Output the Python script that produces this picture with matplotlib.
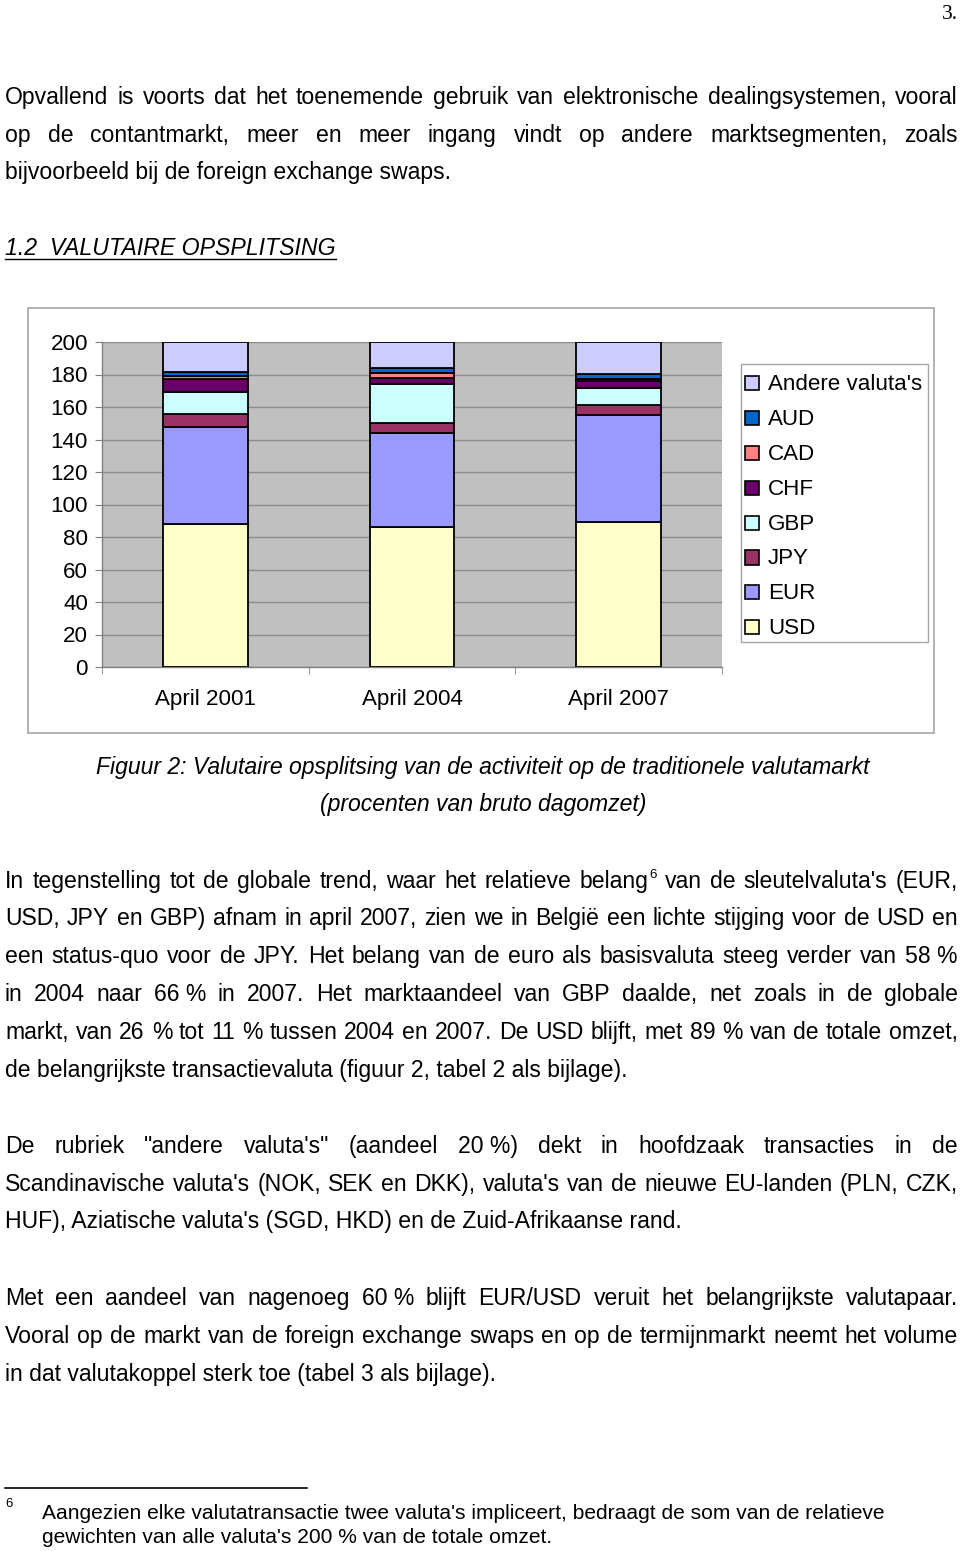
import numpy as np
import matplotlib
matplotlib.use('Agg')
import matplotlib.pyplot as plt
from matplotlib.patches import Rectangle
from matplotlib.lines import Line2D

# chart data (percent of gross daily turnover, sums to 200)
categories = ['April 2001', 'April 2004', 'April 2007']
usd = [88, 86, 89]
eur = [60, 58, 66]
jpy = [8, 6, 6]
gbp = [13.5, 24, 11]
chf = [8, 4, 4]
cad = [1.5, 3, 1.5]
aud = [2.5, 3, 3]
andere = [18.5, 16, 19.5]

series_names = ['USD', 'EUR', 'JPY', 'GBP', 'CHF', 'CAD', 'AUD', "Andere valuta's"]
series_vals = [usd, eur, jpy, gbp, chf, cad, aud, andere]
series_cols = ['#FFFFCC', '#9999FF', '#993366', '#CCFFFF', '#660066', '#FF8080', '#0066CC', '#CCCCFF']
y_ticks = [0, 20, 40, 60, 80, 100, 120, 140, 160, 180, 200]

W, H = 960, 1551
FONT = 'Liberation Sans'
BODY = 16.6
CHART = 16.1
plt.rcParams['font.family'] = [FONT, 'DejaVu Sans']

fig = plt.figure(figsize=(W / 100, H / 100), dpi=100)
fig.patch.set_facecolor('white')
rend = fig.canvas.get_renderer()


def px(x):
    return x / W


def py(y):
    return 1 - y / H


def text_width(t):
    return t.get_window_extent(rend).width


def put_line(txt, y, x0=5, x1=958, justify=False, size=BODY, style='normal'):
    # y is the baseline in page pixels
    if not justify:
        return fig.text(px(x0), py(y), txt, fontsize=size, style=style, va='baseline', ha='left')
    words = txt.split(' ')
    items = []
    total = 0
    for w in words:
        sup = None
        if '^' in w:
            w, sup = w.split('^')
        t = fig.text(0, py(y), w, fontsize=size, style=style, va='baseline', ha='left')
        wd = text_width(t)
        s = None
        if sup:
            s = fig.text(0, py(y - 10), sup, fontsize=size * 0.58, va='baseline', ha='left')
            wd += text_width(s) + 1
        items.append((t, s, wd))
        total += wd
    gap = (x1 - x0 - total) / (len(words) - 1)
    x = x0
    for t, s, wd in items:
        t.set_x(px(x))
        if s is not None:
            s.set_x(px(x + text_width(t) + 1))
        x += wd + gap


# page number
fig.text(px(958), py(19), '3.', fontsize=15.5, family='Liberation Serif', ha='right', va='baseline')

NB = '\u00a0'
body = [
    ("Opvallend is voorts dat het toenemende gebruik van elektronische dealingsystemen, vooral", 104, True),
    ("op de contantmarkt, meer en meer ingang vindt op andere marktsegmenten, zoals", 142, True),
    ("bijvoorbeeld bij de foreign exchange swaps.", 179, False),
    ("In tegenstelling tot de globale trend, waar het relatieve belang^6 van de sleutelvaluta's (EUR,", 888, True),
    ("USD, JPY en GBP) afnam in april 2007, zien we in België een lichte stijging voor de USD en", 925, True),
    ("een status-quo voor de JPY. Het belang van de euro als basisvaluta steeg verder van 58" + NB + "%", 963, True),
    ("in 2004 naar 66" + NB + "% in 2007. Het marktaandeel van GBP daalde, net zoals in de globale", 1001, True),
    ("markt, van 26 % tot 11 % tussen 2004 en 2007. De USD blijft, met 89 % van de totale omzet,", 1039, True),
    ("de belangrijkste transactievaluta (figuur 2, tabel 2 als bijlage).", 1077, False),
    ('De rubriek "andere valuta\'s" (aandeel 20' + NB + '%) dekt in hoofdzaak transacties in de', 1153, True),
    ("Scandinavische valuta's (NOK, SEK en DKK), valuta's van de nieuwe EU-landen (PLN, CZK,", 1191, True),
    ("HUF), Aziatische valuta's (SGD, HKD) en de Zuid-Afrikaanse rand.", 1228, False),
    ("Met een aandeel van nagenoeg 60" + NB + "% blijft EUR/USD veruit het belangrijkste valutapaar.", 1305, True),
    ("Vooral op de markt van de foreign exchange swaps en op de termijnmarkt neemt het volume", 1343, True),
    ("in dat valutakoppel sterk toe (tabel 3 als bijlage).", 1381, False),
]
for txt, y, j in body:
    put_line(txt, y, justify=j)

# section heading, underlined
head = put_line("1.2  VALUTAIRE OPSPLITSING", 255, style='italic', size=16.7)
hw = text_width(head)
fig.add_artist(Line2D([px(5), px(5 + hw)], [py(259), py(259)], color='black', lw=1.0))

# chart frame
fig.add_artist(Rectangle((px(28), py(733)), px(934) - px(28), py(308) - py(733),
                         facecolor='white', edgecolor='#A6A6A6', lw=1.2, zorder=0))

ax = fig.add_axes([px(102), py(667), px(722) - px(102), py(342) - py(667)])
ax.set_facecolor('#C0C0C0')
ax.set_zorder(1)
x = np.arange(len(categories))
bottom = np.zeros(len(categories))
for name, vals, col in zip(series_names, series_vals, series_cols):
    ax.bar(x, vals, bottom=bottom, width=0.41, color=col, edgecolor='black', lw=1.3, zorder=3, label=name)
    bottom += np.array(vals)

ax.set_xlim(-0.5, 2.5)
ax.set_ylim(0, 200)
ax.set_yticks(y_ticks)
ax.set_yticklabels([str(v) for v in y_ticks])
ax.yaxis.grid(True, color='#8C8C8C', lw=1.0, zorder=0)
ax.set_axisbelow(True)
ax.set_xticks(x)
ax.set_xticklabels(categories)
ax.set_xticks([-0.5, 0.5, 1.5, 2.5], minor=True)
ax.tick_params(axis='x', which='major', length=0, pad=16, labelsize=CHART)
ax.tick_params(axis='x', which='minor', length=5, color='#808080', direction='out')
ax.tick_params(axis='y', length=5, color='#808080', pad=5, labelsize=CHART)
for side in ['top', 'right']:
    ax.spines[side].set_visible(False)
for side in ['left', 'bottom']:
    ax.spines[side].set_color('#808080')
    ax.spines[side].set_linewidth(1.0)

# legend (drawn by hand to match the boxed layout)
fig.add_artist(Rectangle((px(741), py(642)), px(928) - px(741), py(364) - py(642),
                         facecolor='white', edgecolor='#A6A6A6', lw=1.0, zorder=2))
for i, k in enumerate(range(len(series_names) - 1, -1, -1)):
    yc = 383 + i * 34.9
    fig.add_artist(Rectangle((px(745), py(yc + 7)), px(14), py(0) - py(14),
                             facecolor=series_cols[k], edgecolor='black', lw=1.2, zorder=3))
    fig.text(px(768), py(yc + 7), series_names[k], fontsize=CHART, va='baseline', ha='left', zorder=3)

# caption
fig.text(px(483), py(774), "Figuur 2: Valutaire opsplitsing van de activiteit op de traditionele valutamarkt",
         fontsize=BODY, style='italic', ha='center', va='baseline')
fig.text(px(483), py(811), "(procenten van bruto dagomzet)", fontsize=BODY, style='italic',
         ha='center', va='baseline')

# footnote
fig.add_artist(Line2D([px(5), px(307)], [py(1488), py(1488)], color='black', lw=1.2))
fig.text(px(5), py(1507), '6', fontsize=9.5, va='baseline', ha='left')
put_line("Aangezien elke valutatransactie twee valuta's impliceert, bedraagt de som van de relatieve", 1519,
         x0=42, size=15.1)
put_line("gewichten van alle valuta's 200 % van de totale omzet.", 1543, x0=42, size=15.1)

fig.savefig('out.png', dpi=100)
